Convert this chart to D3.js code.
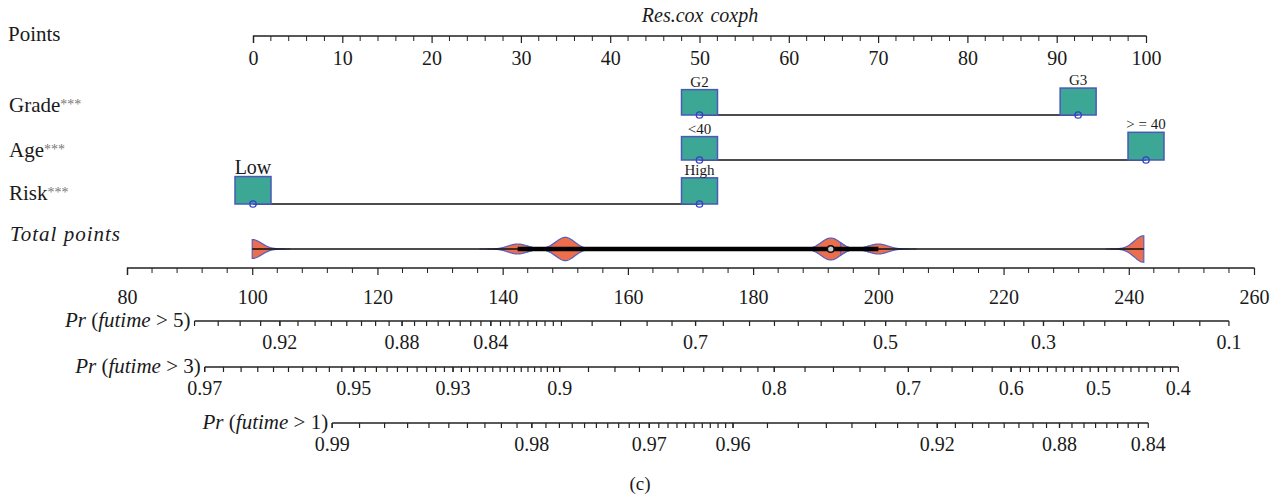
<!DOCTYPE html>
<html>
<head>
<meta charset="utf-8">
<script src="https://cdn.jsdelivr.net/npm/d3@7"></script>
<style>
  body { margin: 0; background: #fff; }
  text { font-family: "Liberation Serif", "DejaVu Serif", serif; fill: #1a1a1a; }
</style>
</head>
<body>
<svg id="chart" width="1280" height="498"></svg>
<script>
// ---- data ----
var pointTicks = d3.range(0, 101, 10);
var totalTicks = d3.range(80, 261, 20);

var predictorNames = ['Grade', 'Age', 'Risk'];
var gradeLevels = ['G2', 'G3'];
var gradePoints = [50, 92.4];
var gradeFreq = [0.47, 0.53];
var ageLevels = ['<40', '> = 40'];
var agePoints = [50, 100];
var ageFreq = [0.40, 0.56];
var riskLevels = ['Low', 'High'];
var riskPoints = [0, 50];
var riskFreq = [0.55, 0.50];

// distribution of total points in the data
var totalValues = [100, 142.4, 150, 192.4, 200, 242.4];
var totalCounts = [57, 30, 70, 66, 30, 80];
var totalQ1 = 142.4, totalMedian = 192.4, totalQ3 = 200;

// survival axes: total points where log(-log S) = 0, and points per unit of log(-log S)
var survTimes = [5, 3, 1];
var survOffset = [217.9, 251.9, 322.9];
var survSlope = 45.68;
var survRange = [[0.94, 0.1], [0.97, 0.4], [0.99, 0.84]];
var survLabels = [
  [0.92, 0.88, 0.84, 0.7, 0.5, 0.3, 0.1],
  [0.97, 0.95, 0.93, 0.9, 0.8, 0.7, 0.6, 0.5, 0.4],
  [0.99, 0.98, 0.97, 0.96, 0.92, 0.88, 0.84]
];
// minor ticks (in thousandths) as [from, to, step] pieces
var survMinorSteps = [
  [[940, 800, 5], [800, 700, 20], [700, 100, 25]],
  [[970, 900, 2], [900, 800, 10], [800, 600, 20], [600, 400, 10]],
  [[990, 960, 1], [960, 840, 5]]
];

// ---- layout ----
var svg = d3.select('#chart');
var teal = '#3da796', boxStroke = '#4a58b8', coral = '#ec6e4d', violinStroke = '#5560c4';

var x = d3.scaleLinear().domain([0, 100]).range([253, 1146]);
var xt = d3.scaleLinear().domain([80, 260]).range([127, 1254]);
var boxH = d3.scaleSqrt().domain([0, 1]).range([0, 37]);
var boxW = 36;

function cloglog(p) { return Math.log(-Math.log(p)); }

function styleAxis(g, fs) {
  g.attr('font-family', null);
  g.select('.domain').attr('stroke', '#222').attr('stroke-width', 1.3)
    .attr('d', function () { return d3.select(this).attr('d').replace(/V[0-9.]+/g, 'V0'); });
  g.selectAll('.tick line').attr('stroke', '#222').attr('stroke-width', 1.2);
  g.selectAll('.tick text')
    .style('font-size', fs + 'px')
    .attr('fill', '#1a1a1a');
}

// title
svg.append('text')
  .attr('x', 700).attr('y', 22)
  .attr('text-anchor', 'middle')
  .style('font-style', 'italic')
  .style('font-size', '20px')
  .style('word-spacing', '2px')
  .text('Res.cox coxph');

// points axis
var pointsAxis = d3.axisBottom(x).tickValues(pointTicks).tickSize(7).tickPadding(8).tickFormat(d3.format('d'));
var gp = svg.append('g').attr('transform', 'translate(0,36)').call(pointsAxis);
gp.selectAll('.tick line').attr('y1', 0);
gp.append('g').selectAll('line')
  .data(d3.range(0, 101, 2).filter(d => d % 10 != 0))
  .enter().append('line')
  .attr('x1', d => x(d)).attr('x2', d => x(d))
  .attr('y1', 0).attr('y2', 5)
  .attr('stroke', '#222');
styleAxis(gp, 20);

svg.append('text').attr('x', 8).attr('y', 41).style('font-size', '21px').text('Points');

// predictor rows
var rows = [
  { levels: gradeLevels, pts: gradePoints, freq: gradeFreq, y: 115, ly: 112 },
  { levels: ageLevels, pts: agePoints, freq: ageFreq, y: 160, ly: 157 },
  { levels: riskLevels, pts: riskPoints, freq: riskFreq, y: 204, ly: 200 }
];

rows.forEach(function (r, i) {
  var t = svg.append('text').attr('x', 9).attr('y', r.ly).style('font-size', '21px');
  t.append('tspan').text(predictorNames[i]);
  t.append('tspan').attr('dy', -3).style('font-size', '14px').attr('fill', '#777').text('***');

  svg.append('line')
    .attr('x1', x(d3.min(r.pts))).attr('x2', x(d3.max(r.pts)))
    .attr('y1', r.y).attr('y2', r.y)
    .attr('stroke', '#111').attr('stroke-width', 1.3);

  var lv = r.levels.map((l, j) => ({ label: l, p: r.pts[j], f: r.freq[j] }));
  svg.selectAll('.box' + i).data(lv).enter().append('rect')
    .attr('x', d => x(d.p) - boxW / 2)
    .attr('y', d => r.y - boxH(d.f))
    .attr('width', boxW)
    .attr('height', d => boxH(d.f))
    .attr('fill', teal).attr('stroke', boxStroke).attr('stroke-width', 1.5);

  svg.selectAll('.lab' + i).data(lv).enter().append('text')
    .attr('x', d => x(d.p))
    .attr('y', d => r.y - boxH(d.f) - 3)
    .attr('text-anchor', 'middle')
    .style('font-size', d => (d.label === 'Low' ? '20px' : '15px'))
    .text(d => d.label);

  svg.selectAll('.dot' + i).data(lv).enter().append('circle')
    .attr('cx', d => x(d.p)).attr('cy', r.y).attr('r', 3.2)
    .attr('fill', 'none').attr('stroke', '#3440c8').attr('stroke-width', 1.3);
});

// total points row
var yTot = 249;
svg.append('text').attr('x', 10).attr('y', 241).style('font-size', '21px').style('font-style', 'italic')
  .style('letter-spacing', '1px').text('Total points');

var sigma = 1.5;
function dens(v) {
  return d3.sum(totalValues, (c, i) => totalCounts[i] * Math.exp(-0.5 * Math.pow((v - c) / sigma, 2)));
}
var vh = d3.scaleLinear().domain([0, d3.max(totalValues, dens)]).range([0, 13.3]);
var tMin = d3.min(totalValues), tMax = d3.max(totalValues);
var area = d3.area()
  .x(d => xt(d[0]))
  .y0(d => yTot + vh(d[1]))
  .y1(d => yTot - vh(d[1]));

totalValues.forEach(function (v) {
  var lo = Math.max(tMin, v - 4 * sigma), hi = Math.min(tMax, v + 4 * sigma);
  var pts = d3.range(lo, hi, 0.1).concat([hi]).map(u => [u, dens(u)]);
  svg.append('path').attr('d', area(pts) + 'Z')
    .attr('fill', coral).attr('stroke', violinStroke).attr('stroke-width', 1.2);
});

svg.append('line').attr('x1', xt(tMin)).attr('x2', xt(tMax)).attr('y1', yTot).attr('y2', yTot)
  .attr('stroke', '#111').attr('stroke-width', 1.3);
svg.append('line').attr('x1', xt(totalQ1)).attr('x2', xt(totalQ3)).attr('y1', yTot).attr('y2', yTot)
  .attr('stroke', '#000').attr('stroke-width', 4.5);
svg.append('circle').attr('cx', xt(totalMedian)).attr('cy', yTot).attr('r', 3.3)
  .attr('fill', '#ccc').attr('stroke', '#111').attr('stroke-width', 1.4);

// total points axis
var totalAxis = d3.axisBottom(xt).tickValues(totalTicks).tickSize(7).tickPadding(15).tickFormat(d3.format('d'));
var gt = svg.append('g').attr('transform', 'translate(0,268)').call(totalAxis);
gt.selectAll('.tick line').attr('y1', 0);
gt.append('g').selectAll('line')
  .data(d3.range(80, 261, 4).filter(d => d % 20 != 0))
  .enter().append('line')
  .attr('x1', d => xt(d)).attr('x2', d => xt(d))
  .attr('y1', 0).attr('y2', 5)
  .attr('stroke', '#222');
styleAxis(gt, 20);

// survival probability axes
var survY = [321, 367, 423];
survTimes.forEach(function (t, i) {
  var px = p => xt(survOffset[i] + survSlope * cloglog(p));
  var minor = [];
  survMinorSteps[i].forEach(s => { minor = minor.concat(d3.range(s[0], s[1], -s[2]).map(d => d / 1000)); });

  var g = svg.append('g');
  g.append('line')
    .attr('x1', px(survRange[i][0])).attr('x2', px(survRange[i][1]))
    .attr('y1', survY[i]).attr('y2', survY[i])
    .attr('stroke', '#222').attr('stroke-width', 1.3);
  g.selectAll('.mt').data(minor.concat(survLabels[i])).enter().append('line')
    .attr('x1', px).attr('x2', px)
    .attr('y1', survY[i]).attr('y2', survY[i] + 5)
    .attr('stroke', '#222').attr('stroke-width', 1.2);
  g.selectAll('.lb').data(survLabels[i]).enter().append('text')
    .attr('x', px).attr('y', survY[i] + 28)
    .attr('text-anchor', 'middle')
    .style('font-size', '20px')
    .text(d => d);

  var lab = g.append('text')
    .attr('x', px(survRange[i][0]) - 4).attr('y', survY[i] + 6)
    .attr('text-anchor', 'end').style('font-size', '21px');
  lab.append('tspan').style('font-style', 'italic').text('Pr');
  lab.append('tspan').text('\u00a0(');
  lab.append('tspan').style('font-style', 'italic').text('futime');
  lab.append('tspan').text('\u00a0>\u00a0' + t + ')');
});

svg.append('text').attr('x', 640).attr('y', 490).attr('text-anchor', 'middle')
  .style('font-size', '19px').text('(c)');
</script>
</body>
</html>
